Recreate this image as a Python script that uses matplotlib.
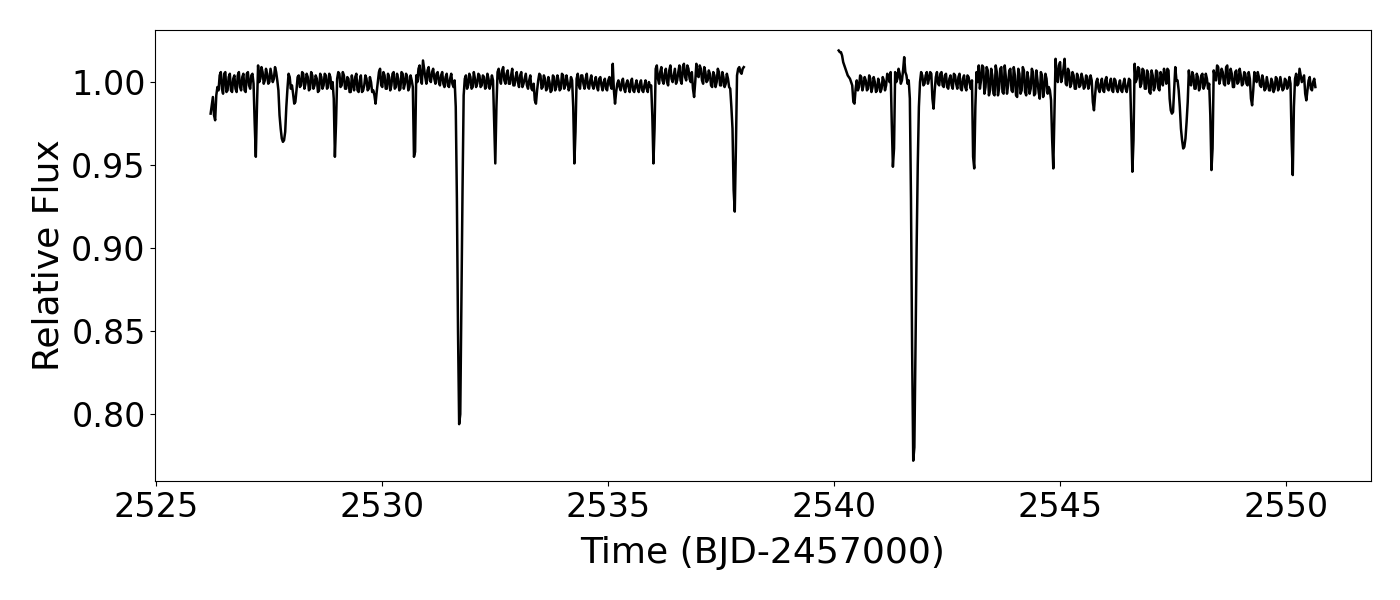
import matplotlib
matplotlib.use("Agg")
import matplotlib.pyplot as plt
import numpy as np

# light curve: samples every 0.05 d plus the
# in-between samples (offset 0.025 d), one pair of lists per orbit
t0_orbit1 = 2526.20
t0_orbit2 = 2540.10
step = 0.05

flux_orbit1 = [
    0.981, 0.991, 0.977, 0.997, 1.004, 0.996, 1.005, 0.994, 1.003, 0.995,  # 0
    1.002, 0.996, 1.004, 0.997, 1.003, 0.995, 1.005, 0.998, 1.004, 0.999,  # 10
    0.955, 1.010, 1.002, 1.006, 1.001, 1.005, 1.000, 1.004, 1.002, 1.006,  # 20
    0.995, 0.972, 0.964, 0.970, 0.996, 1.003, 0.998, 0.987, 0.995, 1.004,  # 30
    0.998, 1.005, 0.999, 1.003, 0.996, 1.004, 0.998, 1.002, 0.995, 1.003,  # 40
    0.998, 1.004, 0.997, 1.003, 1.000, 0.955, 1.002, 1.005, 0.998, 1.004,  # 50
    0.996, 1.002, 0.994, 0.999, 1.003, 0.995, 1.001, 0.994, 0.998, 1.002,  # 60
    0.996, 1.000, 0.995, 0.987, 1.000, 1.008, 0.997, 1.004, 0.996, 1.003,  # 70
    0.998, 1.006, 0.997, 1.002, 0.996, 1.005, 0.999, 1.003, 0.997, 1.001,  # 80
    0.955, 1.004, 1.008, 1.002, 1.013, 1.003, 1.007, 1.001, 1.006, 1.002,  # 90
    1.005, 1.000, 1.004, 0.999, 1.003, 0.998, 1.002, 0.999, 1.001, 0.930,  # 100
    0.794, 0.870, 0.992, 1.004, 0.998, 1.003, 0.997, 1.002, 0.999, 1.004,  # 110
    0.998, 1.003, 0.997, 1.002, 0.999, 1.001, 0.951, 1.006, 1.002, 1.007,  # 120
    1.001, 1.005, 0.999, 1.004, 0.998, 1.003, 1.000, 1.004, 0.997, 1.002,  # 130
    0.998, 1.001, 0.996, 0.999, 0.987, 1.001, 1.004, 0.997, 1.002, 0.996,  # 140
    1.000, 0.995, 1.003, 0.997, 1.001, 0.996, 1.004, 0.998, 1.000, 0.997,  # 150
    1.001, 0.951, 1.002, 0.998, 1.004, 0.999, 1.002, 0.997, 1.001, 0.998,  # 160
    1.000, 0.997, 1.002, 0.998, 1.000, 0.996, 1.001, 0.998, 1.011, 0.987,  # 170
    0.999, 0.997, 1.000, 0.996, 0.999, 0.997, 1.000, 0.995, 0.998, 0.996,  # 180
    0.999, 0.995, 0.998, 0.996, 1.000, 0.998, 0.951, 1.008, 1.002, 1.006,  # 190
    1.001, 1.005, 1.000, 1.007, 1.002, 1.004, 0.999, 1.006, 1.001, 1.009,  # 200
    1.003, 1.010, 1.002, 1.006, 0.991, 1.011, 1.003, 1.008, 0.999, 1.006,  # 210
    1.001, 1.005, 0.997, 1.004, 1.000, 1.006, 0.998, 1.003, 0.999, 1.002,  # 220
    0.996, 0.972, 0.922, 1.004, 1.009, 1.005, 1.009,                       # 230
]
flux_orbit1_mid = [
    0.986, 0.980, 0.992, 0.995, 1.006, 0.993, 1.006, 0.995, 1.005, 0.994,
    1.004, 0.994, 1.006, 0.995, 1.005, 0.994, 1.006, 0.996, 1.005, 0.975,
    0.985, 1.000, 1.009, 0.999, 1.008, 0.999, 1.008, 1.000, 1.009, 1.001,
    0.980, 0.966, 0.965, 0.985, 1.005, 0.996, 0.993, 0.988, 1.003, 0.997,
    1.006, 0.996, 1.005, 0.995, 1.006, 0.996, 1.004, 0.994, 1.005, 0.996,
    1.005, 0.996, 1.005, 0.996, 0.990, 0.975, 1.006, 0.997, 1.006, 0.996,
    1.003, 0.994, 1.004, 0.995, 1.005, 0.994, 1.004, 0.995, 1.004, 0.995,
    1.003, 0.994, 0.992, 0.994, 1.006, 0.998, 1.006, 0.996, 1.005, 0.995,
    1.005, 0.996, 1.005, 0.995, 1.006, 0.996, 1.005, 0.995, 1.004, 0.997,
    0.958, 1.000, 1.010, 0.999, 1.008, 0.999, 1.009, 1.000, 1.008, 0.999,
    1.006, 0.998, 1.006, 0.997, 1.005, 0.997, 1.005, 0.997, 0.985, 0.850,
    0.800, 0.935, 1.002, 0.996, 1.005, 0.996, 1.006, 0.997, 1.005, 0.997,
    1.004, 0.996, 1.005, 0.996, 1.004, 0.975, 0.985, 1.008, 0.999, 1.009,
    0.999, 1.007, 0.999, 1.008, 0.998, 1.006, 0.997, 1.006, 0.999, 1.005,
    0.996, 1.004, 0.995, 0.989, 0.995, 1.005, 0.996, 1.004, 0.995, 1.003,
    0.994, 1.004, 0.995, 1.004, 0.995, 1.005, 0.996, 1.004, 0.995, 1.003,
    0.985, 0.970, 1.005, 0.996, 1.004, 0.996, 1.005, 0.996, 1.004, 0.996,
    1.003, 0.995, 1.003, 0.995, 1.002, 0.995, 1.003, 0.996, 0.995, 0.994,
    1.001, 0.995, 1.002, 0.994, 1.001, 0.994, 1.002, 0.994, 1.001, 0.994,
    1.001, 0.994, 1.001, 0.994, 0.997, 0.980, 0.972, 1.010, 0.999, 1.009,
    0.999, 1.008, 0.998, 1.010, 1.000, 1.008, 1.001, 1.010, 0.999, 1.011,
    1.001, 1.008, 1.000, 0.996, 1.000, 1.004, 1.010, 1.001, 1.009, 1.000,
    1.007, 0.998, 1.006, 0.997, 1.008, 0.998, 1.006, 0.997, 1.005, 0.997,
    0.985, 0.935, 0.960, 1.008, 1.006, 1.008,
]

flux_orbit2 = [
    1.019, 1.018, 1.012, 1.008, 1.004, 1.002, 0.998, 0.987, 1.001, 0.997,  # 0
    1.003, 0.998, 1.001, 0.996, 1.002, 0.997, 1.000, 0.995, 0.999, 0.996,  # 10
    1.001, 0.998, 1.004, 1.006, 0.949, 1.006, 1.002, 1.005, 1.001, 1.015,  # 20
    1.004, 1.001, 0.930, 0.772, 0.840, 0.950, 1.000, 1.004, 0.999, 1.006,  # 30
    1.002, 1.005, 0.984, 1.003, 0.999, 1.005, 0.998, 1.004, 0.997, 1.002,  # 40
    0.998, 1.005, 0.999, 1.003, 0.996, 1.002, 0.997, 1.004, 0.999, 1.001,  # 50
    0.948, 1.006, 1.010, 1.001, 1.009, 0.997, 1.007, 0.995, 1.004, 0.992,  # 60
    1.006, 0.996, 1.009, 0.993, 1.003, 0.998, 1.008, 0.994, 1.004, 0.991,  # 70
    1.005, 0.995, 1.007, 0.992, 1.002, 0.996, 1.006, 0.993, 1.001, 0.990,  # 80
    1.004, 0.995, 1.002, 0.997, 0.989, 0.948, 1.014, 1.000, 1.012, 1.003,  # 90
    1.014, 0.998, 1.006, 0.999, 1.004, 0.996, 1.003, 0.998, 1.002, 0.997,  # 100
    1.003, 0.999, 1.001, 0.983, 1.000, 0.996, 0.999, 0.995, 1.001, 0.996,  # 110
    0.999, 0.995, 1.002, 0.996, 0.998, 0.995, 0.999, 0.996, 0.998, 1.001,  # 120
    0.946, 1.011, 1.002, 1.008, 0.999, 1.007, 0.996, 1.005, 0.993, 1.004,  # 130
    0.997, 1.006, 0.995, 1.003, 1.008, 0.999, 1.007, 0.983, 0.982, 1.009,  # 140
    1.001, 0.985, 0.965, 0.961, 0.976, 1.007, 0.998, 1.004, 0.996, 1.003,  # 150
    0.997, 1.005, 0.998, 1.002, 0.999, 0.947, 1.007, 1.001, 1.009, 1.002,  # 160
    1.006, 0.998, 1.010, 1.001, 1.005, 0.997, 1.007, 1.000, 1.004, 0.999,  # 170
    1.005, 0.998, 1.002, 0.986, 1.006, 1.000, 1.003, 0.997, 1.001, 0.996,  # 180
    0.999, 0.995, 1.000, 0.996, 1.002, 0.997, 0.999, 0.996, 1.001, 0.998,  # 190
    0.999, 0.944, 1.002, 0.998, 1.008, 1.000, 1.004, 0.989, 1.001, 0.996,  # 200
    1.000, 0.997,                                                          # 210
]
flux_orbit2_mid = [
    1.018, 1.016, 1.010, 1.006, 1.003, 1.000, 0.988, 0.996, 0.995, 1.004,
    0.995, 1.003, 0.995, 1.004, 0.994, 1.003, 0.994, 1.002, 0.994, 1.003,
    0.995, 1.005, 1.000, 0.975, 0.960, 1.000, 1.008, 0.999, 1.007, 1.006,
    0.999, 0.990, 0.840, 0.780, 0.900, 0.985, 1.006, 0.998, 1.004, 0.999,
    1.006, 0.990, 0.995, 1.006, 0.998, 1.006, 0.997, 1.005, 0.996, 1.004,
    0.996, 1.004, 0.996, 1.005, 0.995, 1.004, 0.995, 1.003, 0.996, 0.955,
    0.985, 1.000, 0.996, 1.010, 0.993, 1.009, 0.992, 1.008, 0.993, 1.010,
    0.992, 1.008, 0.994, 1.010, 0.993, 1.007, 0.995, 1.009, 0.992, 1.008,
    0.993, 1.009, 0.994, 1.006, 0.993, 1.008, 0.992, 1.007, 0.994, 1.006,
    0.991, 1.005, 0.993, 0.995, 0.965, 0.980, 1.004, 1.010, 1.000, 1.008,
    0.999, 1.008, 0.997, 1.006, 0.996, 1.005, 0.997, 1.005, 0.996, 1.004,
    0.996, 1.004, 0.988, 0.992, 1.002, 0.994, 1.002, 0.994, 1.003, 0.995,
    1.002, 0.994, 1.001, 0.994, 1.001, 0.994, 1.002, 0.994, 1.002, 0.975,
    0.965, 1.000, 1.009, 0.997, 1.008, 0.996, 1.007, 0.994, 1.007, 0.995,
    1.007, 0.996, 1.006, 0.998, 1.004, 1.008, 0.990, 0.981, 0.995, 1.001,
    0.995, 0.972, 0.960, 0.966, 0.988, 0.999, 1.006, 0.996, 1.005, 0.995,
    1.004, 0.996, 1.005, 0.996, 0.980, 0.960, 1.003, 1.010, 0.999, 1.008,
    0.999, 1.009, 0.999, 1.008, 0.997, 1.006, 0.999, 1.008, 0.998, 1.006,
    0.999, 1.006, 0.990, 0.995, 1.002, 1.006, 0.998, 1.004, 0.995, 1.003,
    0.995, 1.002, 0.994, 1.003, 0.995, 1.003, 0.995, 1.002, 0.996, 1.003,
    0.965, 0.985, 1.005, 0.999, 1.004, 1.002, 0.993, 0.995, 1.003, 0.995,
    1.002,
]


def merge(t0, flux, flux_mid):
    n = len(flux) + len(flux_mid)
    f = np.empty(n)
    f[0::2] = flux
    f[1::2] = flux_mid
    t = t0 + step / 2 * np.arange(n)
    return t, f


time1, f1 = merge(t0_orbit1, flux_orbit1, flux_orbit1_mid)
time2, f2 = merge(t0_orbit2, flux_orbit2, flux_orbit2_mid)

# NaN between orbits so the line breaks over the data gap
time = np.concatenate([time1, [np.nan], time2])
flux = np.concatenate([f1, [np.nan], f2])

fig, ax = plt.subplots(figsize=(14, 6), dpi=100)
ax.plot(time, flux, color="black", lw=1.8)

ax.set_xlabel("Time (BJD-2457000)", fontsize=26, labelpad=9)
ax.set_ylabel("Relative Flux", fontsize=26)
ax.tick_params(labelsize=24)
ax.set_yticks([0.80, 0.85, 0.90, 0.95, 1.00])

plt.subplots_adjust(left=0.111, right=0.979, top=0.95, bottom=0.198)
plt.savefig("out.png", dpi=100)
